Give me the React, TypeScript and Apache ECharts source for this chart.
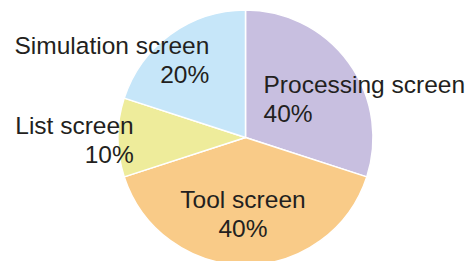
import React, { useEffect, useRef } from "react";
import * as echarts from "echarts";

const categories = ["Processing screen", "Tool screen", "List screen", "Simulation screen"];
const values = [30, 40, 10, 20];
const percentLabels = ["40%", "40%", "10%", "20%"];
const colors = ["#C8BFE0", "#F9CB88", "#EEEC9B", "#C6E6F9"];

const labelAlign = ["left", "center", "right", "right"];
const labelShift = [
  [-36, 0.5],
  [-2.5, 9.5],
  [-45, 2.5],
  [3, -23.5],
];

export default function App() {
  const ref = useRef<HTMLDivElement>(null);
  useEffect(() => {
    document.body.style.margin = "0";
    const chart = echarts.init(ref.current!, null, { renderer: "svg" });
    chart.setOption({
      animation: false,
      series: [
        {
          type: "pie",
          center: [245.5, 137.5],
          radius: 127.5,
          startAngle: 90,
          clockwise: true,
          silent: true,
          itemStyle: { borderColor: "#ffffff", borderWidth: 1.5 },
          label: {
            show: true,
            position: "inside",
            fontFamily: "Liberation Sans, Arial, sans-serif",
            fontSize: 24.5,
            lineHeight: 29,
            color: "#231F20",
            formatter: (p: any) => `${p.name}\n${percentLabels[p.dataIndex]}`,
          },
          labelLine: { show: false },
          labelLayout: (params: any) => ({
            dx: labelShift[params.dataIndex][0],
            dy: labelShift[params.dataIndex][1],
            align: labelAlign[params.dataIndex],
          }),
          data: categories.map((name, i) => ({
            name,
            value: values[i],
            itemStyle: { color: colors[i] },
            label: { align: labelAlign[i] },
          })),
        },
      ],
    });
    return () => chart.dispose();
  }, []);
  return <div ref={ref} style={{ width: 466, height: 261, position: "absolute", left: 0, top: 0 }} />;
}
